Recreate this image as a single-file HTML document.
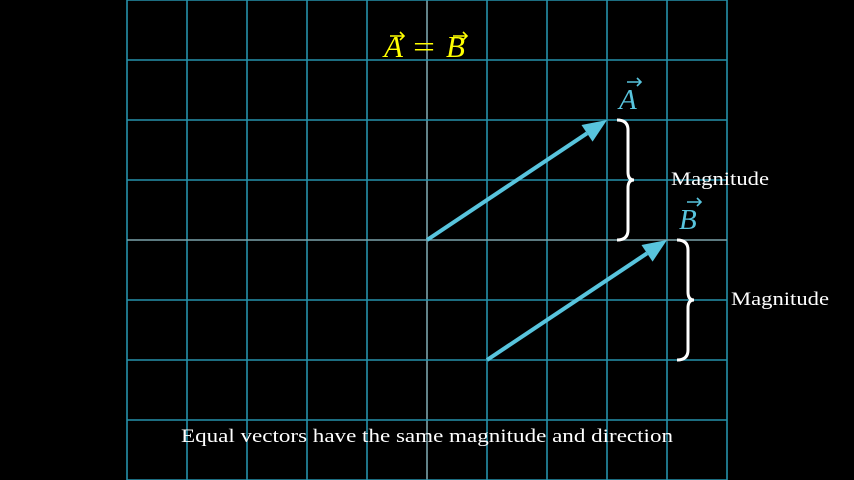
<!DOCTYPE html>
<html><head><meta charset="utf-8"><style>
body{margin:0;background:#000;width:854px;height:480px;overflow:hidden}
svg{display:block}
text{font-family:"Liberation Serif",serif}
</style></head><body>
<svg id="c" width="854" height="480"></svg>
<script>
const gridXs=[-5,-4,-3,-2,-1,0,1,2,3,4,5];
const gridYs=[4,3,2,1,0,-1,-2,-3,-4];
const vecNames=["A","B"];
const vecStartX=[0,1];
const vecStartY=[0,-2];
const vecEndX=[3,4];
const vecEndY=[2,0];
const braceLabels=["Magnitude","Magnitude"];
const NS="http://www.w3.org/2000/svg";
const svg=document.getElementById('c');
const ox=427,oy=240,u=60;
const X=v=>ox+v*u, Y=v=>oy-v*u;
function el(t,a,p){const e=document.createElementNS(NS,t);for(const k in a)e.setAttribute(k,a[k]);(p||svg).appendChild(e);return e;}
const g=el('g',{});


gridXs.forEach(v=>{const l=el('line',{x1:X(v),x2:X(v),y1:0,y2:480,stroke:v===0?'#7aa3ab':'#2591ab','stroke-width':1.6},g);

});
gridYs.forEach(v=>{const l=el('line',{x1:X(-5),x2:X(5),y1:Y(v),y2:Y(v),stroke:v===0?'#7aa3ab':'#2591ab','stroke-width':1.6},g);

});
function arrowMark(x,y,w,col,name){
 const a=el('path',{d:`M${x} ${y} h${w} M${x+w-4} ${y-4} l4 4 l-4 4`,stroke:col,'stroke-width':1.6,fill:'none'});
 
 
}
vecNames.forEach((n,i)=>{
 const x1=X(vecStartX[i]),y1=Y(vecStartY[i]),x2=X(vecEndX[i]),y2=Y(vecEndY[i]);
 const dx=x2-x1,dy=y2-y1,L=Math.hypot(dx,dy),ux=dx/L,uy=dy/L,px=-uy,py=ux;
 const hl=24,hw=10;
 const bx=x2-ux*hl,by=y2-uy*hl;
 const ln=el('line',{x1,y1,x2:bx,y2:by,stroke:'#58c4dd','stroke-width':4});
 
 
 const hd=el('polygon',{points:`${x2},${y2} ${bx+px*hw},${by+py*hw} ${bx-px*hw},${by-py*hw}`,fill:'#58c4dd'});
 
 
 const t=el('text',{x:x2+12,y:y2-11,fill:'#58c4dd','font-size':29,'font-style':'italic'});t.textContent=n;
 
 
 arrowMark(x2+20,y2-38,14,'#58c4dd','vector-'+n.toLowerCase()+'-arrow-mark');
 const bx0=x2+10,top=y2,bot=Y(vecStartY[i]),mid=(top+bot)/2;
 const br=el('path',{d:`M${bx0} ${top} Q${bx0+11} ${top} ${bx0+11} ${top+10} L${bx0+11} ${mid-8} Q${bx0+11} ${mid} ${bx0+17} ${mid} Q${bx0+11} ${mid} ${bx0+11} ${mid+8} L${bx0+11} ${bot-10} Q${bx0+11} ${bot} ${bx0} ${bot}`,stroke:'#fff','stroke-width':3,fill:'none'});
 
 
 const mt=el('text',{x:bx0+54,y:mid+5,fill:'#fff','font-size':19,textLength:98,lengthAdjust:'spacingAndGlyphs'});mt.textContent=braceLabels[i];
 
 
});
const tg=el('g',{fill:'#ffff00','font-size':31});


const ta=el('text',{x:384,y:57,'font-style':'italic'},tg);ta.textContent='A';
const te=el('text',{x:413,y:57,textLength:22,lengthAdjust:'spacingAndGlyphs'},tg);te.textContent='=';
const tb=el('text',{x:446,y:57,'font-style':'italic'},tg);tb.textContent='B';
arrowMark(390,36,14,'#ffff00','title-arrow-a');
arrowMark(453,36,14,'#ffff00','title-arrow-b');
const cap=el('text',{x:181,y:442,fill:'#fff','font-size':19,textLength:492,lengthAdjust:'spacingAndGlyphs'});
cap.textContent='Equal vectors have the same magnitude and direction';


</script>
</body></html>
